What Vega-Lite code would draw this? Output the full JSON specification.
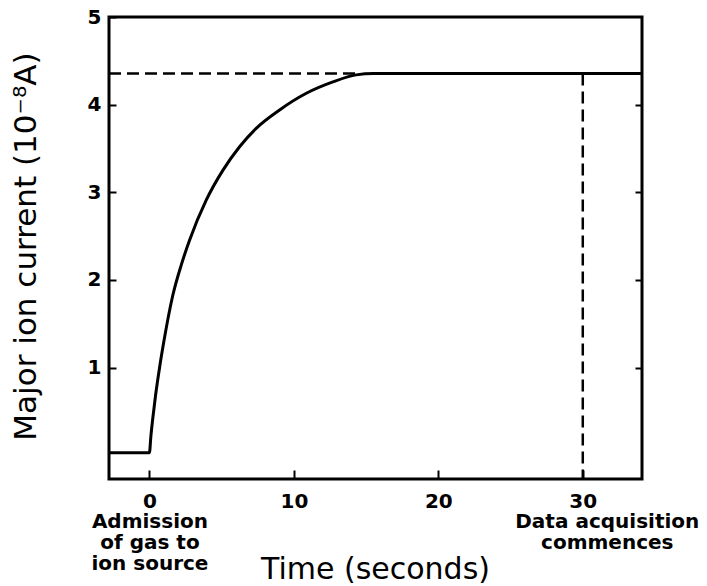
{
  "$schema": "https://vega.github.io/schema/vega-lite/v6.json",
  "width": 533,
  "height": 462,
  "autosize": "none",
  "padding": {"left": 109, "top": 17, "right": 65, "bottom": 107},
  "background": "white",
  "config": {
    "view": {"stroke": "black", "strokeWidth": 3},
    "axis": {
      "grid": false,
      "domain": false,
      "labelFont": "DejaVu Sans",
      "labelFontWeight": "bold",
      "labelFontSize": 20,
      "labelColor": "black",
      "tickColor": "black",
      "tickWidth": 2,
      "titleFont": "DejaVu Sans",
      "titleFontWeight": "normal",
      "titleColor": "black",
      "labelFlush": false,
      "labelOverlap": false,
      "labelLimit": 0
    }
  },
  "datasets": {
    "curve": [
      {"t": -2.8, "v": 0.03},
      {"t": 0, "v": 0.03},
      {"t": 0.1, "v": 0.22},
      {"t": 0.23, "v": 0.42},
      {"t": 0.42, "v": 0.68},
      {"t": 0.7, "v": 1.0},
      {"t": 1.0, "v": 1.3},
      {"t": 1.61, "v": 1.82},
      {"t": 2.2, "v": 2.17},
      {"t": 2.77, "v": 2.45},
      {"t": 3.93, "v": 2.91},
      {"t": 5.08, "v": 3.25},
      {"t": 6.24, "v": 3.52},
      {"t": 7.39, "v": 3.73},
      {"t": 9.01, "v": 3.94},
      {"t": 10.86, "v": 4.13},
      {"t": 12.7, "v": 4.26},
      {"t": 14.32, "v": 4.34},
      {"t": 15.5, "v": 4.355},
      {"t": 34.5, "v": 4.355}
    ],
    "hline": [{"x": -2.8, "x2": 14.5, "y": 4.355}],
    "vline": [{"x": 30, "y": 4.355, "y2": -0.27}]
  },
  "resolve": {"axis": {"x": "independent", "y": "independent"}},
  "layer": [
    {
      "data": {"name": "curve"},
      "mark": {"type": "line", "color": "black", "strokeWidth": 3, "interpolate": "monotone", "clip": true},
      "encoding": {
        "x": {
          "field": "t", "type": "quantitative",
          "scale": {"domain": [-2.8, 34.1], "nice": false, "zero": false},
          "axis": {
            "orient": "bottom", "values": [0, 10, 20, 30], "tickSize": -9, "labelPadding": 21,
            "title": "Time (seconds)", "titleFontSize": 30, "titleX": 266, "titleY": 99,
            "titleBaseline": "alphabetic", "titleAlign": "center"
          }
        },
        "y": {
          "field": "v", "type": "quantitative",
          "scale": {"domain": [-0.27, 5], "nice": false, "zero": false},
          "axis": {
            "orient": "left", "values": [1, 2, 3, 4, 5], "tickSize": -7, "labelPadding": 15,
            "title": "Major ion current (10⁻⁸A)", "titleFontSize": 31, "titleX": -83, "titleY": 229,
            "titleAngle": -90, "titleAlign": "center", "titleBaseline": "middle"
          }
        }
      }
    },
    {
      "data": {"name": "hline"},
      "mark": {"type": "rule", "color": "black", "strokeWidth": 2.5, "strokeDash": [12, 6]},
      "encoding": {
        "x": {
          "field": "x", "type": "quantitative",
          "axis": {
            "orient": "bottom", "values": [0, 30], "ticks": false, "labelPadding": 32,
            "labelExpr": "datum.value == 0 ? ['Admission', 'of gas to', 'ion source'] : ['Data acquisition', 'commences']",
            "labelLineHeight": 21,
            "labelOffset": {"condition": {"test": "datum.value == 30", "value": 24}, "value": 0},
            "title": null
          }
        },
        "x2": {"field": "x2"},
        "y": {
          "field": "y", "type": "quantitative",
          "axis": {"orient": "right", "values": [1, 2, 3, 4], "tickSize": -7, "labels": false, "title": null}
        }
      }
    },
    {
      "data": {"name": "vline"},
      "mark": {"type": "rule", "color": "black", "strokeWidth": 2.5, "strokeDash": [12, 6]},
      "encoding": {
        "x": {"field": "x", "type": "quantitative", "axis": null},
        "y": {"field": "y", "type": "quantitative", "axis": null},
        "y2": {"field": "y2"}
      }
    }
  ]
}
